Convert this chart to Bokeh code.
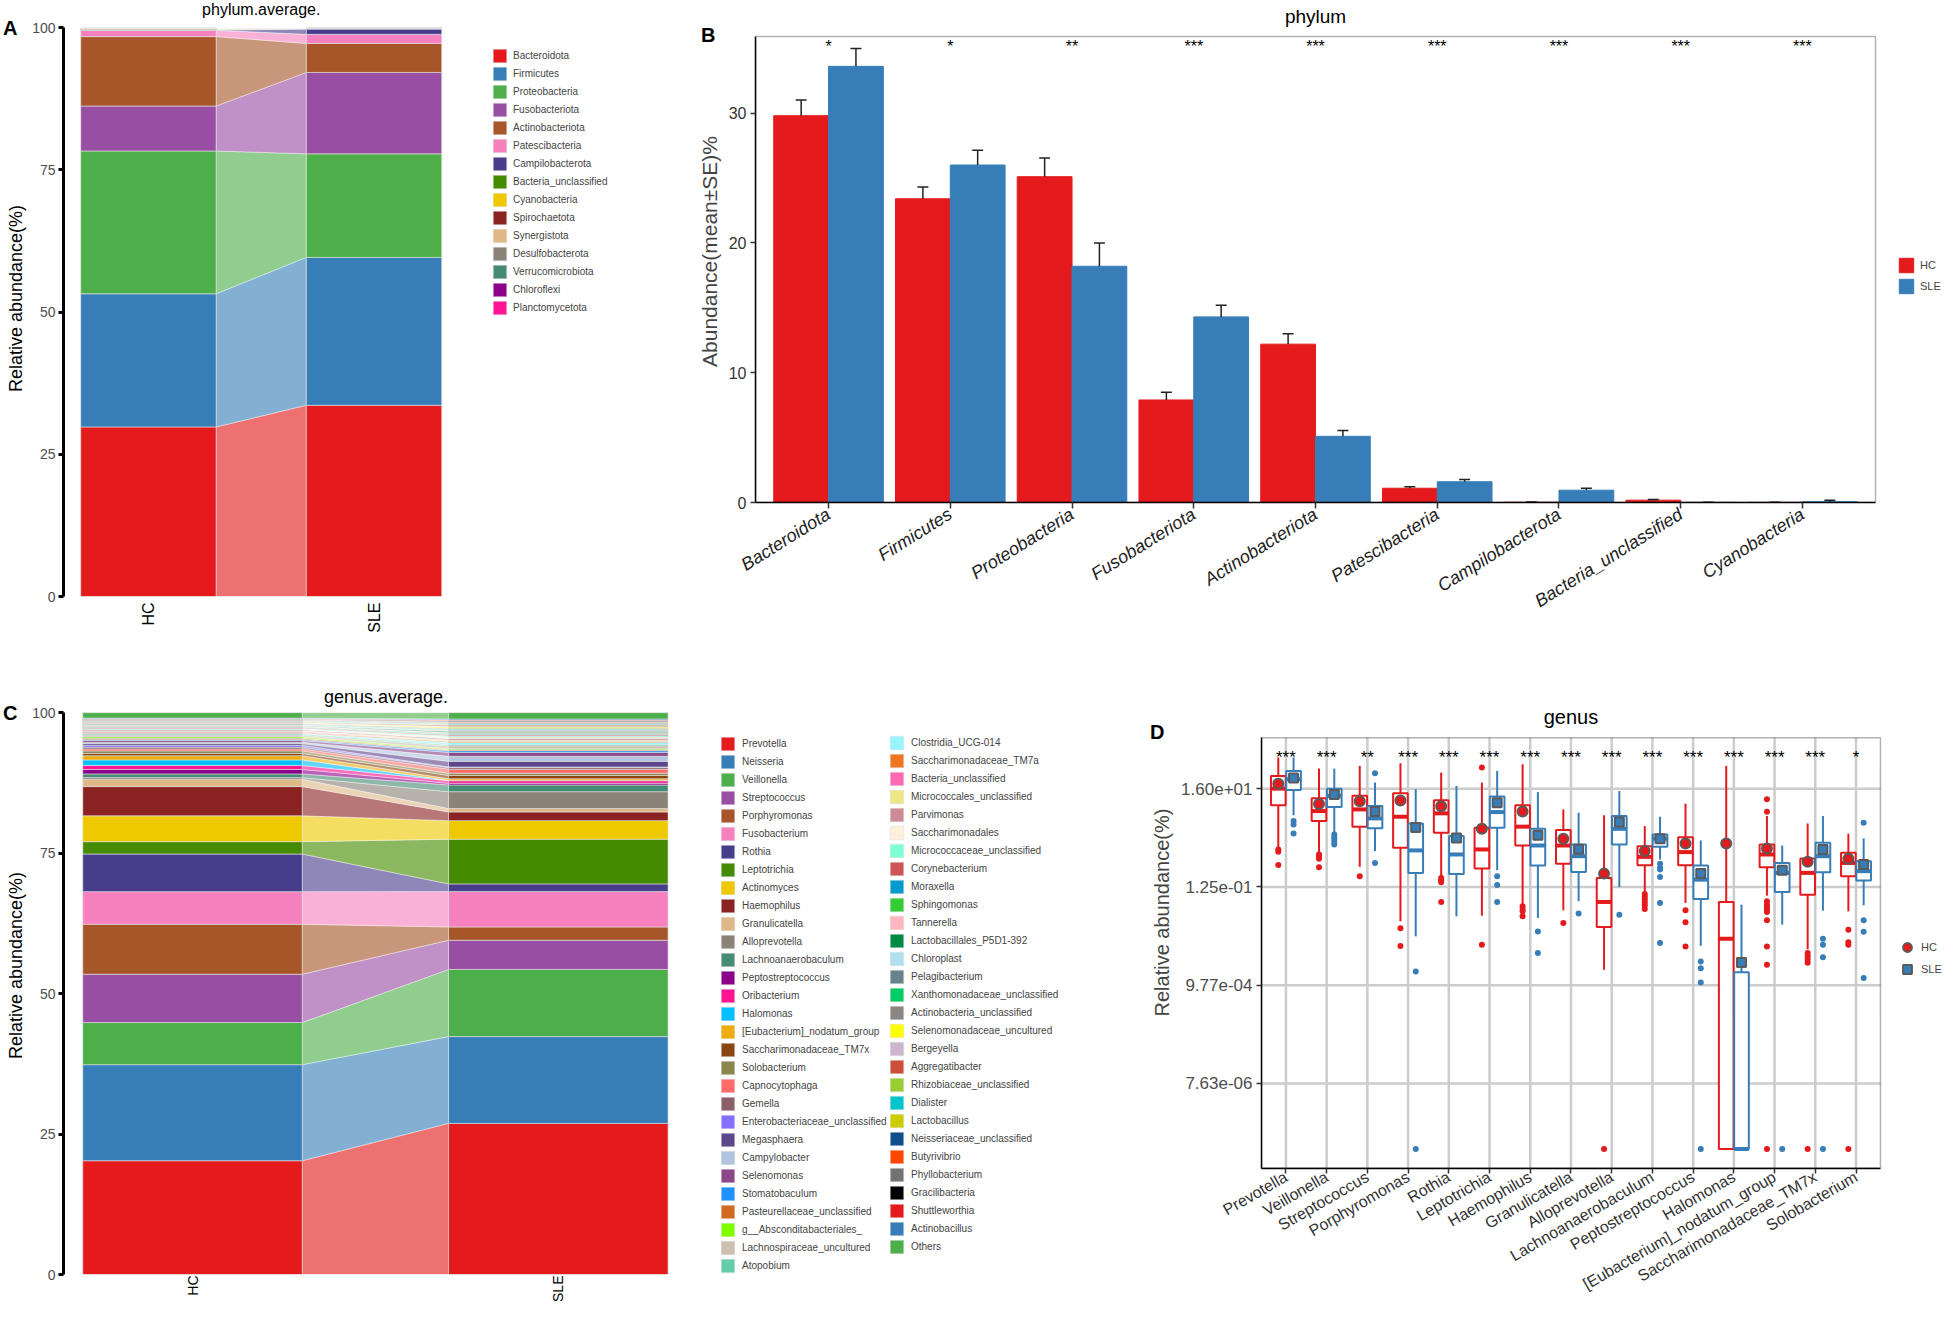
import math
import numpy as np
from bokeh.plotting import figure
from bokeh.models import (ColumnDataSource, Legend, LegendItem, FixedTicker, LinearAxis, LogAxis,
                          CustomJSTickFormatter, Range1d, BoxAnnotation)
from bokeh.layouts import column, row
from bokeh.core.properties import value
from bokeh.embed import file_html
from bokeh.resources import INLINE

FONT = "Liberation Sans"
RED = "#E41A1C"
BLUE = "#377EB8"

# ---------------- Phylum data (panels A, B) ----------------
phyla = ["Bacteroidota", "Firmicutes", "Proteobacteria", "Fusobacteriota", "Actinobacteriota",
         "Patescibacteria", "Campilobacterota", "Bacteria_unclassified", "Cyanobacteria",
         "Spirochaetota", "Synergistota", "Desulfobacterota", "Verrucomicrobiota",
         "Chloroflexi", "Planctomycetota"]
phylum_colors = ["#E41A1C", "#377EB8", "#4DAF4A", "#984EA3", "#A65628", "#F781BF", "#483D8B",
                 "#458B00", "#EEC900", "#8B2323", "#DEB887", "#8B8378", "#458B74", "#8B008B",
                 "#FF1493"]
phylum_hc = [29.8, 23.4, 25.1, 7.9, 12.2, 1.1, 0.02, 0.18, 0.01, 0.05, 0.04, 0.03, 0.02, 0.01, 0.01]
phylum_sle = [33.6, 26.0, 18.2, 14.3, 5.1, 1.6, 0.95, 0.01, 0.06, 0.03, 0.02, 0.02, 0.01, 0.01, 0.01]
# standard errors of the 9 phyla shown in panel B
phylum_hc_se = [1.2, 0.9, 1.45, 0.6, 0.8, 0.12, 0.01, 0.06, 0.01]
phylum_sle_se = [1.37, 1.13, 1.8, 0.9, 0.45, 0.18, 0.15, 0.01, 0.12]
sig_b = ["*", "*", "**", "***", "***", "***", "***", "***", "***"]

# ---------------- Genus data (panel C) ----------------
genera = ["Prevotella", "Neisseria", "Veillonella", "Streptococcus", "Porphyromonas",
          "Fusobacterium", "Rothia", "Leptotrichia", "Actinomyces", "Haemophilus",
          "Granulicatella", "Alloprevotella", "Lachnoanaerobaculum", "Peptostreptococcus",
          "Oribacterium", "Halomonas", "[Eubacterium]_nodatum_group", "Saccharimonadaceae_TM7x",
          "Solobacterium", "Capnocytophaga", "Gemella", "Enterobacteriaceae_unclassified",
          "Megasphaera", "Campylobacter", "Selenomonas", "Stomatobaculum",
          "Pasteurellaceae_unclassified", "g__Absconditabacteriales_", "Lachnospiraceae_uncultured",
          "Atopobium",
          "Clostridia_UCG-014", "Saccharimonadaceae_TM7a", "Bacteria_unclassified",
          "Micrococcales_unclassified", "Parvimonas", "Saccharimonadales",
          "Micrococcaceae_unclassified", "Corynebacterium", "Moraxella", "Sphingomonas",
          "Tannerella", "Lactobacillales_P5D1-392", "Chloroplast", "Pelagibacterium",
          "Xanthomonadaceae_unclassified", "Actinobacteria_unclassified",
          "Selenomonadaceae_uncultured", "Bergeyella", "Aggregatibacter",
          "Rhizobiaceae_unclassified", "Dialister", "Lactobacillus", "Neisseriaceae_unclassified",
          "Butyrivibrio", "Phyllobacterium", "Gracilibacteria", "Shuttleworthia",
          "Actinobacillus", "Others"]
genus_colors = ["#E41A1C", "#377EB8", "#4DAF4A", "#984EA3", "#A65628", "#F781BF", "#483D8B",
                "#458B00", "#EEC900", "#8B2323", "#DEB887", "#8B8378", "#458B74", "#8B008B",
                "#FF1493", "#00BFFF", "#EEAD0E", "#8B4513", "#8B864E", "#FF6A6A", "#8B5F65",
                "#8470FF", "#5D478B", "#B0C4DE", "#8B4789", "#1E90FF", "#D2691E", "#7FFF00",
                "#CDC0B0", "#66CDAA",
                "#98F5FF", "#EE7621", "#FF69B4", "#EEE685", "#CD8C95", "#FFEFDB", "#7FFFD4",
                "#CD5555", "#009ACD", "#32CD32", "#FFB6C1", "#008B45", "#B2DFEE", "#68838B",
                "#00CD66", "#8B8682", "#FFFF00", "#CDB5CD", "#CD4F39", "#9ACD32", "#00C5CD",
                "#CDCD00", "#104E8B", "#FF4500", "#737373", "#000000", "#E41A1C", "#377EB8",
                "#4DAF4A"]
genus_hc = [20.25, 17.1, 7.5, 8.6, 8.9, 5.8, 6.7, 2.2, 4.6, 5.2,
            1.3, 0.3, 0.65, 0.8, 0.7, 1.0, 0.75, 0.4, 0.45, 0.35,
            0.3, 0.35, 0.3, 0.25, 0.3, 0.2, 0.2, 0.25, 0.3, 0.2,
            0.15, 0.15, 0.15, 0.12, 0.2, 0.1, 0.1, 0.15, 0.1, 0.08,
            0.12, 0.1, 0.08, 0.08, 0.08, 0.1, 0.08, 0.1, 0.12, 0.06,
            0.1, 0.06, 0.08, 0.06, 0.06, 0.08, 0.08, 0.1, 0.96]
genus_sle = [26.9, 15.45, 11.95, 5.2, 2.36, 6.3, 1.37, 7.96, 3.3, 1.55,
             0.6, 3.0, 1.2, 0.3, 0.45, 0.05, 0.3, 0.6, 0.4, 0.7,
             0.3, 0.1, 1.0, 0.9, 0.7, 0.3, 0.15, 0.2, 0.5, 0.2,
             0.4, 0.2, 0.05, 0.2, 0.25, 0.3, 0.2, 0.2, 0.1, 0.15,
             0.15, 0.2, 0.2, 0.1, 0.1, 0.15, 0.2, 0.15, 0.2, 0.1,
             0.15, 0.1, 0.1, 0.1, 0.1, 0.15, 0.1, 0.2, 1.11]

# ---------------- Genus box plots (panel D), relative abundance in % ----------------
ZERO = 3.0e-7   # zero abundance drawn at the floor of the log axis
d_genera = ["Prevotella", "Veillonella", "Streptococcus", "Porphyromonas", "Rothia",
            "Leptotrichia", "Haemophilus", "Granulicatella", "Alloprevotella",
            "Lachnoanaerobaculum", "Peptostreptococcus", "Halomonas",
            "[Eubacterium]_nodatum_group", "Saccharimonadaceae_TM7x", "Solobacterium"]
sig_d = ["***", "***", "**", "***", "***", "***", "***", "***", "***", "***", "***", "***",
         "***", "***", "*"]
hc_lo = [0.865, 0.674, 0.337, 0.0229, 0.212, 0.0302, 0.0521, 0.0393, 0.00209, 0.0928, 0.0567,
         ZERO, 0.0813, 0.0058, 0.0374]
hc_q1 = [7.01, 3.23, 2.45, 0.865, 1.82, 0.31, 0.966, 0.39, 0.0172, 0.366, 0.366, ZERO, 0.33,
         0.0854, 0.212]
hc_med = [16.0, 5.28, 5.74, 4.0, 4.72, 0.795, 2.45, 0.966, 0.0595, 0.551, 0.697, 0.00967, 0.62,
          0.25, 0.409]
hc_q3 = [29.9, 9.92, 11.2, 12.7, 9.0, 2.31, 7.01, 2.07, 0.195, 0.933, 1.46, 0.0595, 1.01, 0.507,
         0.674]
hc_hi = [74.0, 43.1, 49.2, 56.1, 35.3, 21.6, 53.4, 5.74, 4.29, 2.51, 7.62, 49.2, 4.14, 2.87, 1.73]
hc_mean = [20.3, 7.5, 8.6, 8.9, 6.7, 2.2, 5.2, 1.35, 0.241, 0.732, 1.07, 1.07, 0.835, 0.432, 0.5]
hc_out = [[0.795, 0.707, 0.371], [0.62, 0.551, 0.5, 0.33], [0.212], [0.0162, 0.00675],
          [0.195, 0.174, 0.157, 0.0595], [45.3, 0.00719], [0.048, 0.0421, 0.0374, 0.0292],
          [0.021], [ZERO], [0.0884, 0.0775, 0.068, 0.0583, 0.0508, 0.0421],
          [0.0393, 0.0218, 0.00661], [],
          [9.45, 5.13, 0.0617, 0.0521, 0.0458, 0.0406, 0.0362, 0.024, 0.00661, 0.00267, ZERO],
          [0.00481, 0.0041, 0.00348, 0.00296, ZERO], [0.0151, 0.00809, 0.00719, ZERO]]
sle_lo = [4.29, 1.82, 0.732, 0.0109, 0.0292, 0.285, 0.027, 0.0617, 0.125, 0.483, 0.00685, ZERO,
          0.0194, 0.0387, 0.0504]
sle_q1 = [14.9, 6.45, 2.25, 0.25, 0.238, 2.31, 0.359, 0.262, 1.01, 0.908, 0.0688, ZERO, 0.0974,
          0.259, 0.171]
sle_med = [25.5, 11.2, 3.68, 0.758, 0.62, 5.03, 0.966, 0.57, 2.2, 1.35, 0.179, ZERO, 0.25, 0.57,
           0.272]
sle_q3 = [38.3, 16.0, 6.77, 2.87, 1.54, 10.8, 2.2, 1.01, 4.14, 1.67, 0.359, 0.00186, 0.409, 1.10,
          0.444]
sle_hi = [74.0, 43.1, 21.6, 15.5, 18.3, 38.3, 13.5, 4.89, 14.2, 4.0, 1.24, 0.0521, 0.966, 4.14,
          1.37]
sle_mean = [26.9, 11.95, 5.2, 2.36, 1.4, 7.96, 1.6, 0.8, 3.07, 1.35, 0.241, 0.003, 0.285, 0.795,
            0.379]
sle_out = [[3.23, 2.73, 1.75], [1.67, 1.46, 1.30, 1.14, 1.01], [34.3, 0.409], [0.00193, ZERO],
           [], [0.212, 0.138, 0.0595], [0.0139, 0.00478], [0.0335], [0.0317],
           [0.39, 0.321, 0.295, 0.204, 0.0567, 0.00781], [0.00315, 0.00226, 0.00111, ZERO],
           [], [ZERO], [0.00967, 0.00719, 0.0039, ZERO], [2.97, 0.024, 0.0137, 0.0014]]
d_y_ticks = [16, 0.125, 2 ** -10, 2 ** -17]


# ---------------- helpers ----------------
def new_fig(**kw):
    p = figure(output_backend="svg", toolbar_location=None, **kw)
    if "frame_align" in p.properties():
        p.frame_align = False
    p.background_fill_color = "white"
    p.border_fill_color = "white"
    p.outline_line_color = None
    p.grid.visible = False
    return p


def stacked(vals):
    v = np.asarray(vals, dtype=float)
    top = np.cumsum(v)
    return top - v, top


def stacked_panel(p, colors, hc, sle, bw=0.6):
    hb, ht = stacked(hc)
    sb, st = stacked(sle)
    n = len(colors)
    links = ColumnDataSource(dict(
        xs=[[1 + bw / 2, 2 - bw / 2, 2 - bw / 2, 1 + bw / 2] for _ in range(n)],
        ys=[[hb[i], sb[i], st[i], ht[i]] for i in range(n)],
        color=colors))
    p.patches("xs", "ys", source=links, fill_color="color", fill_alpha=0.62,
              line_color="white", line_width=0.6, line_alpha=0.7)
    src_h = ColumnDataSource(dict(left=[1 - bw / 2] * n, right=[1 + bw / 2] * n,
                                  bottom=hb, top=ht, color=colors))
    src_s = ColumnDataSource(dict(left=[2 - bw / 2] * n, right=[2 + bw / 2] * n,
                                  bottom=sb, top=st, color=colors))
    r_h = p.quad(left="left", right="right", bottom="bottom", top="top", source=src_h,
                 fill_color="color", line_color="#E3E3E3", line_width=0.6)
    p.quad(left="left", right="right", bottom="bottom", top="top", source=src_s,
           fill_color="color", line_color="#E3E3E3", line_width=0.6)
    return r_h


def stacked_axes(p, xlab_size, xlab_standoff):
    y = p.yaxis[0]
    y.ticker = FixedTicker(ticks=[0, 25, 50, 75, 100])
    y.bounds = (0, 100)
    y.axis_label = "Relative abundance(%)"
    y.axis_label_text_font = FONT
    y.axis_label_text_font_size = "18px"
    y.axis_label_text_font_style = "normal"
    y.axis_label_text_color = "black"
    y.axis_label_standoff = 3
    y.axis_line_width = 3
    y.axis_line_color = "black"
    y.major_tick_line_width = 3
    y.major_tick_out = 5
    y.major_tick_in = 0
    y.minor_tick_line_color = None
    y.major_label_text_font = FONT
    y.major_label_text_font_size = "14px"
    y.major_label_text_color = "#4D4D4D"
    y.major_label_standoff = 3
    x = p.xaxis[0]
    x.ticker = FixedTicker(ticks=[1, 2])
    x.major_label_overrides = {1: "HC", 2: "SLE"}
    x.major_label_orientation = math.pi / 2
    x.axis_line_color = None
    x.major_tick_line_color = None
    x.minor_tick_line_color = None
    x.major_tick_out = 0
    x.major_tick_in = 0
    x.axis_label = None
    x.major_label_standoff = xlab_standoff
    x.major_label_text_font = FONT
    x.major_label_text_font_size = xlab_size
    x.major_label_text_color = "black"


def make_legend(items, loc, gw, gh, spacing, standoff, size):
    return Legend(items=items, location=loc, glyph_width=gw, glyph_height=gh, label_height=gh,
                  spacing=spacing, padding=0, margin=0, label_standoff=standoff,
                  label_text_font=FONT, label_text_font_size=size, border_line_alpha=0,
                  background_fill_alpha=0)


def add_title(p, x, y, text, size):
    p.text(x=[x], y=[y], text=[text], text_align="center", text_baseline="middle",
           text_font=value(FONT), text_font_size=size, text_color="black")


def add_letter(p, letter, tick, standoff=-14, axis_cls=LinearAxis):
    # panel letter drawn as the single label of an unlined outer axis at the panel's top
    ax = axis_cls(ticker=FixedTicker(ticks=[tick]), major_label_overrides={tick: letter},
                  axis_line_color=None, major_tick_line_color=None, minor_tick_line_color=None,
                  major_tick_out=0, major_tick_in=0, minor_tick_out=0, minor_tick_in=0,
                  major_label_standoff=standoff, major_label_text_font=FONT,
                  major_label_text_font_size="20px", major_label_text_font_style="bold",
                  major_label_text_color="black")
    p.add_layout(ax, "left")


def frame_axes(p, xb, yb):
    for ax in (p.xaxis[0], p.yaxis[0]):
        ax.major_tick_out = 5
        ax.major_tick_in = 0
        ax.major_tick_line_width = 1.5
        ax.major_tick_line_color = "#333333"
        ax.minor_tick_line_color = None
        ax.axis_line_width = 1.5
        ax.axis_line_color = "black"
        ax.major_label_text_font = FONT
    p.xaxis[0].bounds = xb
    p.yaxis[0].bounds = yb
    p.add_layout(BoxAnnotation(left=xb[0], right=xb[1], bottom=yb[0], top=yb[1], fill_alpha=0,
                               line_color="black", line_width=1.5))


# ================= Panel A =================
unitA = 228.5
pxA = 5.69                      # pixels per % in panel A
xa0 = 1 - 86 / unitA
pA = new_fig(width=690, height=656, x_range=Range1d(xa0, xa0 + 635 / unitA),
             y_range=Range1d(0, 100 + 27 / pxA),
             min_border_left=55, min_border_right=0, min_border_top=0, min_border_bottom=60)
rA = stacked_panel(pA, phylum_colors, phylum_hc, phylum_sle)
stacked_axes(pA, "16px", 6)
pA.add_layout(make_legend([LegendItem(label=phyla[i], renderers=[rA], index=i)
                           for i in range(len(phyla))], (428, 280), 17, 17, 1, 5, "10px"))
add_title(pA, 1.5, 100 + 18 / pxA, "phylum.average.", "16px")
add_letter(pA, "A", 100)

# ================= Panel B =================
nB = 9
catB = np.arange(1, nB + 1)
unitB, pxB = 121.74, 12.98
bl_B = 65
pB = new_fig(width=1253, height=656, x_range=Range1d(0.4, 0.4 + (1253 - bl_B) / unitB),
             y_range=Range1d(0, 502 / pxB),
             min_border_left=bl_B, min_border_right=0, min_border_top=0, min_border_bottom=154)
hcB = np.array(phylum_hc[:nB])
sleB = np.array(phylum_sle[:nB])
seH = np.array(phylum_hc_se)
seS = np.array(phylum_sle_se)
rB_h = pB.vbar(x=catB - 0.225, width=0.45, top=hcB, bottom=0, fill_color=RED, line_color=RED)
rB_s = pB.vbar(x=catB + 0.225, width=0.45, top=sleB, bottom=0, fill_color=BLUE, line_color=BLUE)
for xx, m, se in ((catB - 0.225, hcB, seH), (catB + 0.225, sleB, seS)):
    pB.segment(x0=xx, y0=m, x1=xx, y1=m + se, line_color="#222222", line_width=1.5)
    pB.segment(x0=xx - 0.045, y0=m + se, x1=xx + 0.045, y1=m + se, line_color="#222222",
               line_width=1.5)
pB.text(x=catB, y=[35.1] * nB, text=sig_b, text_align="center", text_baseline="middle",
        text_font=value(FONT), text_font_size="16px", text_color="black")
frame_axes(pB, (0.4, nB + 0.6), (0, 35.9))
yb = pB.yaxis[0]
yb.ticker = FixedTicker(ticks=[0, 10, 20, 30])
yb.axis_label = "Abundance(mean±SE)%"
yb.axis_label_text_font = FONT
yb.axis_label_text_font_size = "21px"
yb.axis_label_text_font_style = "normal"
yb.axis_label_standoff = 5
yb.major_label_text_font_size = "16px"
yb.major_label_text_color = "#333333"
yb.major_label_standoff = 4
xb = pB.xaxis[0]
xb.ticker = FixedTicker(ticks=list(catB))
xb.major_label_overrides = {int(i + 1): phyla[i] for i in range(nB)}
xb.major_label_orientation = math.radians(32)
xb.major_label_text_font_size = "18px"
xb.major_label_text_font_style = "italic"
xb.major_label_text_color = "#222222"
xb.major_label_standoff = 4
xb.major_tick_out = 6
pB.add_layout(make_legend([LegendItem(label="HC", renderers=[rB_h]),
                           LegendItem(label="SLE", renderers=[rB_s])],
                          (1142, 207), 18, 18, 3, 5, "11px"))
add_title(pB, (nB + 1) / 2, (503 - 17) / pxB, "phylum", "19px")
add_letter(pB, "B", 36, -21)

# ================= Panel C =================
unitC = 368.6
pxC = 5.636
xc0 = 1 - 130 / unitC
pC = new_fig(width=1110, height=648, x_range=Range1d(xc0, xc0 + 1055 / unitC),
             y_range=Range1d(0, 620 / pxC),
             min_border_left=55, min_border_right=0, min_border_top=0, min_border_bottom=28)
rC = stacked_panel(pC, genus_colors, genus_hc, genus_sle)
stacked_axes(pC, "14px", 1)
ncol1 = 30
pC.add_layout(make_legend([LegendItem(label=genera[i], renderers=[rC], index=i)
                           for i in range(ncol1)], (656, 0), 17, 17, 1, 6, "10px"))
pC.add_layout(make_legend([LegendItem(label=genera[i], renderers=[rC], index=i)
                           for i in range(ncol1, len(genera))], (825, 19), 17, 17, 1, 6, "10px"))
add_title(pC, 1 + (388 - 193) / unitC, 100 + (713.4 - 697.5) / pxC, "genus.average.", "18px")
add_letter(pC, "C", 100)

# ================= Panel D =================
nD = len(d_genera)
catD = np.arange(1, nD + 1)
unitD, pxD = 40.72, 14.04       # px per category, px per doubling
bl_D = 151
d_bot, d_top = 2 ** -23.02, 2 ** 7.62
l_bot = -23.02 - 0.5 / pxD
pD = new_fig(width=833, height=648, x_range=Range1d(0.4, 0.4 + (833 - bl_D) / unitD),
             y_range=Range1d(2 ** l_bot, 2 ** (l_bot + 512 / pxD)), y_axis_type="log",
             min_border_left=bl_D, min_border_right=0, min_border_top=0, min_border_bottom=136)
# grid lines at the tick positions, limited to the plot panel
pD.segment(x0=catD, y0=[d_bot] * nD, x1=catD, y1=[d_top] * nD, line_color="#CCCCCC",
           line_width=2.5)
pD.segment(x0=[0.4] * len(d_y_ticks), y0=d_y_ticks, x1=[nD + 0.6] * len(d_y_ticks),
           y1=d_y_ticks, line_color="#CCCCCC", line_width=2.5)
off, bw = 0.1875, 0.36
mean_renderers = []
for col, xx, lo, q1, med, q3, hi, mean, outs, mk, msz in (
        (RED, catD - off, hc_lo, hc_q1, hc_med, hc_q3, hc_hi, hc_mean, hc_out, "circle", 10),
        (BLUE, catD + off, sle_lo, sle_q1, sle_med, sle_q3, sle_hi, sle_mean, sle_out, "square", 9)):
    src = ColumnDataSource(dict(x=xx, left=xx - bw / 2, right=xx + bw / 2, lo=lo, q1=q1,
                                med=med, q3=q3, hi=hi, mean=mean))
    pD.segment(x0="x", y0="q3", x1="x", y1="hi", source=src, line_color=col, line_width=2)
    pD.segment(x0="x", y0="q1", x1="x", y1="lo", source=src, line_color=col, line_width=2)
    pD.quad(left="left", right="right", bottom="q1", top="q3", source=src, fill_color="white",
            line_color=col, line_width=2)
    pD.segment(x0="left", y0="med", x1="right", y1="med", source=src, line_color=col,
               line_width=4)
    ox = [xx[i] for i in range(nD) for _ in outs[i]]
    oy = [v for i in range(nD) for v in outs[i]]
    pD.scatter(ox, oy, marker="circle", size=6, fill_color=col, line_color=None)
    mean_renderers.append(pD.scatter("x", "mean", source=src, marker=mk, size=msz,
                                     fill_color=col, line_color="#5A5A5A", line_width=2))
pD.text(x=catD, y=[2 ** 6.25] * nD, text=sig_d, text_align="center", text_baseline="middle",
        text_font=value(FONT), text_font_size="17px", text_color="black")
frame_axes(pD, (0.4, nD + 0.6), (d_bot, d_top))
yd = pD.yaxis[0]
yd.ticker = FixedTicker(ticks=d_y_ticks)
yd.formatter = CustomJSTickFormatter(code=r"""
const s = tick.toExponential(2);
return s.replace(/e([+-])(\d)$/, (m, a, b) => "e" + a + "0" + b);
""")
yd.axis_label = "Relative abundance(%)"
yd.axis_label_text_font = FONT
yd.axis_label_text_font_size = "20px"
yd.axis_label_text_font_style = "normal"
yd.axis_label_standoff = 5
yd.major_label_text_font_size = "17px"
yd.major_label_text_color = "#4D4D4D"
yd.major_label_standoff = 4
xd = pD.xaxis[0]
xd.ticker = FixedTicker(ticks=list(catD))
xd.major_label_overrides = {int(i + 1): d_genera[i] for i in range(nD)}
xd.major_label_orientation = math.radians(30)
xd.major_label_text_font_size = "16px"
xd.major_label_text_color = "#333333"
xd.major_label_standoff = 2
pD.add_layout(make_legend([LegendItem(label="HC", renderers=[mean_renderers[0]]),
                           LegendItem(label="SLE", renderers=[mean_renderers[1]])],
                          (634, 188), 24, 22, 0, 2, "11px"))
add_title(pD, (nD + 1) / 2, 2 ** (4 + (789.3 - 718) / pxD), "genus", "20px")
add_letter(pD, "D", 256, -16, LogAxis)

layout = column(row(pA, pB), row(pC, pD))
open("out.html", "w").write(file_html(layout, INLINE))
